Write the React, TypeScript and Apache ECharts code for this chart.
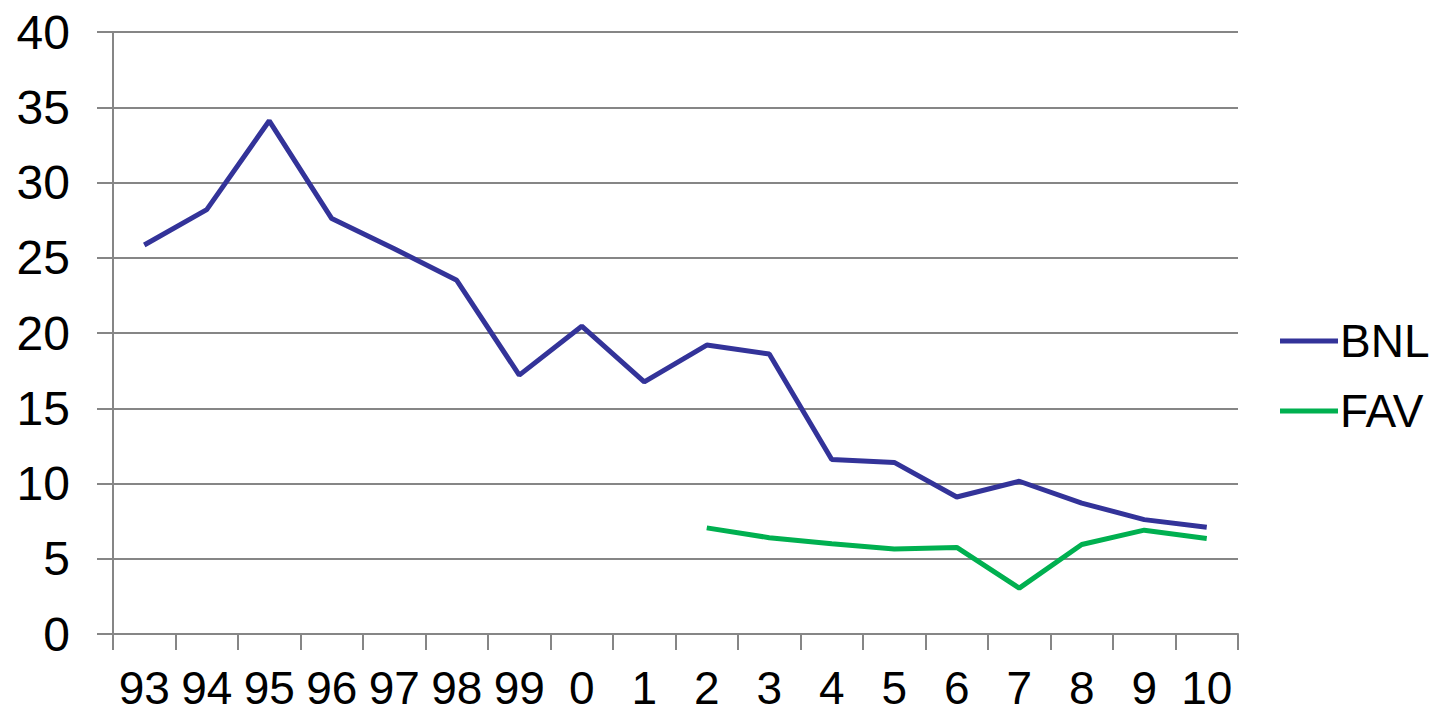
import React, { useEffect, useRef } from "react";
import * as echarts from "echarts";

const categories = ["93", "94", "95", "96", "97", "98", "99", "0", "1", "2", "3", "4", "5", "6", "7", "8", "9", "10"];
const bnl = [25.85, 28.2, 34.1, 27.6, 25.6, 23.5, 17.2, 20.45, 16.75, 19.2, 18.6, 11.6, 11.4, 9.1, 10.15, 8.7, 7.6, 7.1];
const fav = [null, null, null, null, null, null, null, null, null, 7.05, 6.4, 6.0, 5.65, 5.75, 3.05, 5.95, 6.9, 6.35];
const yTicks = { min: 0, max: 40, interval: 5 };

const FONT = "'Liberation Sans', Arial, sans-serif";
const AXIS_GREY = "#868686";

export default function App() {
  const ref = useRef<HTMLDivElement>(null);
  useEffect(() => {
    if (!ref.current) return;
    const chart = echarts.init(ref.current, undefined, { renderer: "svg" });
    chart.setOption({
      animation: false,
      backgroundColor: "#ffffff",
      textStyle: { fontFamily: FONT },
      grid: { left: 113, right: 197, top: 32, bottom: 94, containLabel: false },
      legend: {
        orient: "vertical",
        left: 1275,
        top: 312,
        icon: "rect",
        itemWidth: 58,
        itemHeight: 5,
        itemGap: 22,
        textStyle: { fontSize: 46, color: "#000", fontFamily: FONT, lineHeight: 48, padding: [0, 0, 0, -3] },
        data: ["BNL", "FAV"],
      },
      xAxis: {
        type: "category",
        data: categories,
        boundaryGap: true,
        axisLine: { show: true, lineStyle: { color: AXIS_GREY, width: 2 } },
        axisTick: { show: true, length: 16, interval: 0, lineStyle: { color: AXIS_GREY, width: 2 } },
        axisLabel: { interval: 0, fontSize: 46, color: "#000", margin: 31, fontFamily: FONT },
        splitLine: { show: false },
      },
      yAxis: {
        type: "value",
        min: yTicks.min,
        max: yTicks.max,
        interval: yTicks.interval,
        axisLine: { show: true, lineStyle: { color: AXIS_GREY, width: 2 } },
        axisTick: { show: true, length: 16, lineStyle: { color: AXIS_GREY, width: 2 } },
        axisLabel: { fontSize: 48, color: "#000", margin: 43, fontFamily: FONT },
        splitLine: { show: true, lineStyle: { color: AXIS_GREY, width: 2 } },
      },
      series: [
        {
          name: "BNL",
          type: "line",
          data: bnl,
          showSymbol: false,
          symbol: "none",
          color: "#333399",
          lineStyle: { color: "#333399", width: 5 },
        },
        {
          name: "FAV",
          type: "line",
          data: fav,
          showSymbol: false,
          symbol: "none",
          color: "#00B050",
          lineStyle: { color: "#00B050", width: 5 },
        },
      ],
    });
    return () => chart.dispose();
  }, []);
  return (
    <div
      ref={ref}
      style={{ position: "fixed", left: 0, top: 0, width: 1435, height: 728, background: "#fff" }}
    />
  );
}
